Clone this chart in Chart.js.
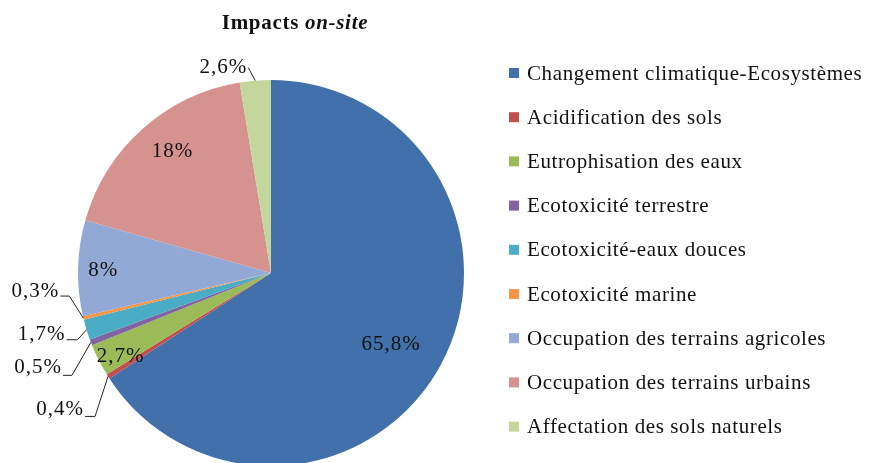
<!DOCTYPE html>
<html>
<head>
<meta charset="utf-8">
<script src="https://cdn.jsdelivr.net/npm/chart.js@4/dist/chart.umd.min.js"></script>
<style>
    html, body { margin: 0; padding: 0; background: #fff; overflow: hidden; }
    #wrap { width: 871px; height: 480px; }
</style>
</head>
<body>
<div id="wrap"><canvas id="impactsChart" width="871" height="480"></canvas></div>
<script>
const categories = [
    "Changement climatique-Ecosystèmes",
    "Acidification des sols",
    "Eutrophisation des eaux",
    "Ecotoxicité terrestre",
    "Ecotoxicité-eaux douces",
    "Ecotoxicité marine",
    "Occupation des terrains agricoles",
    "Occupation des terrains urbains",
    "Affectation des sols naturels"
];
const shares = [65.8, 0.4, 2.7, 0.5, 1.7, 0.3, 8, 18, 2.6];
const sliceColors = ["#4270ab", "#c0504d", "#9bbb59", "#8064a2", "#4bacc6", "#f79646", "#93a9d5", "#d6928f", "#c3d69b"];

// how each label sits: inside at a fraction of the radius (plus a nudge),
// or outside with a leader line (elbow offset, horizontal run, text baseline shift)
const labelStyle = [
    { inside: 0.72, nx: -2, ny: 5 },
    { dx: -13, dy: 40, run: 10, ty: -1 },
    { inside: 0.89, nx: 3, ny: 6 },
    { dx: -19, dy: 33, run: 9, ty: -2 },
    { dx: -9, dy: 10, run: 11, ty: 0 },
    { dx: -14, dy: -22, run: 9, ty: 1 },
    { inside: 0.87, nx: 0, ny: 2 },
    { inside: 0.82, nx: 7, ny: -3 },
    { dx: -7, dy: -13, run: 0, ty: 5 }
];

const serif = '"Liberation Serif", "Times New Roman", serif';

function fmt(v) {
    return v.toString().replace(".", ",") + "%";
}

const sliceLabels = {
    id: "sliceLabels",
    afterDatasetsDraw(chart) {
        const ctx = chart.ctx;
        const arcs = chart.getDatasetMeta(0).data;
        ctx.save();
        ctx.font = "21px " + serif;
        ctx.letterSpacing = "1px";
        ctx.fillStyle = "#111";
        ctx.strokeStyle = "#222";
        ctx.lineWidth = 1;
        arcs.forEach((arc, i) => {
            const p = arc.getProps(["x", "y", "startAngle", "endAngle", "outerRadius"], true);
            const mid = (p.startAngle + p.endAngle) / 2;
            const st = labelStyle[i];
            const text = fmt(shares[i]);
            if (st.inside) {
                const r = p.outerRadius * st.inside;
                ctx.textAlign = "center";
                ctx.textBaseline = "middle";
                ctx.fillText(text, p.x + Math.cos(mid) * r + st.nx, p.y + Math.sin(mid) * r + st.ny);
                return;
            }
            const ex = p.x + Math.cos(mid) * p.outerRadius;
            const ey = p.y + Math.sin(mid) * p.outerRadius;
            const bx = ex + st.dx;
            const by = ey + st.dy;
            ctx.beginPath();
            ctx.moveTo(ex, ey);
            ctx.lineTo(bx, by);
            ctx.lineTo(bx - st.run, by);
            ctx.stroke();
            ctx.textAlign = "right";
            ctx.textBaseline = "alphabetic";
            ctx.fillText(text, bx - st.run - 1, by + st.ty);
        });
        ctx.restore();
    }
};

const sideLegend = {
    id: "sideLegend",
    afterDraw(chart) {
        const ctx = chart.ctx;
        ctx.save();
        ctx.font = "21px " + serif;
        ctx.letterSpacing = "0.6px";
        ctx.textAlign = "left";
        ctx.textBaseline = "middle";
        categories.forEach((name, i) => {
            const y = 73 + i * 44.2;
            ctx.fillStyle = sliceColors[i];
            ctx.fillRect(509, y - 5, 10, 10);
            ctx.fillStyle = "#111";
            ctx.fillText(name, 527, y + 1);
        });

        // title, with the second word in italics
        ctx.textBaseline = "alphabetic";
        ctx.letterSpacing = "0.7px";
        const a = "Impacts ";
        const b = "on-site";
        ctx.font = "bold 21px " + serif;
        const wa = ctx.measureText(a).width;
        ctx.font = "italic bold 21px " + serif;
        const wb = ctx.measureText(b).width;
        const x = 295 - (wa + wb) / 2;
        ctx.font = "bold 21px " + serif;
        ctx.fillText(a, x, 29);
        ctx.font = "italic bold 21px " + serif;
        ctx.fillText(b, x + wa, 29);
        ctx.restore();
    }
};

new Chart(document.getElementById("impactsChart"), {
    type: "pie",
    data: {
        labels: categories,
        datasets: [{
            data: shares,
            backgroundColor: sliceColors,
            borderWidth: 0
        }]
    },
    options: {
        responsive: false,
        animation: false,
        layout: { padding: { left: 78, top: 80, right: 407, bottom: 14 } },
        plugins: {
            legend: { display: false },
            tooltip: { enabled: false }
        }
    },
    plugins: [sliceLabels, sideLegend]
});
</script>
</body>
</html>
